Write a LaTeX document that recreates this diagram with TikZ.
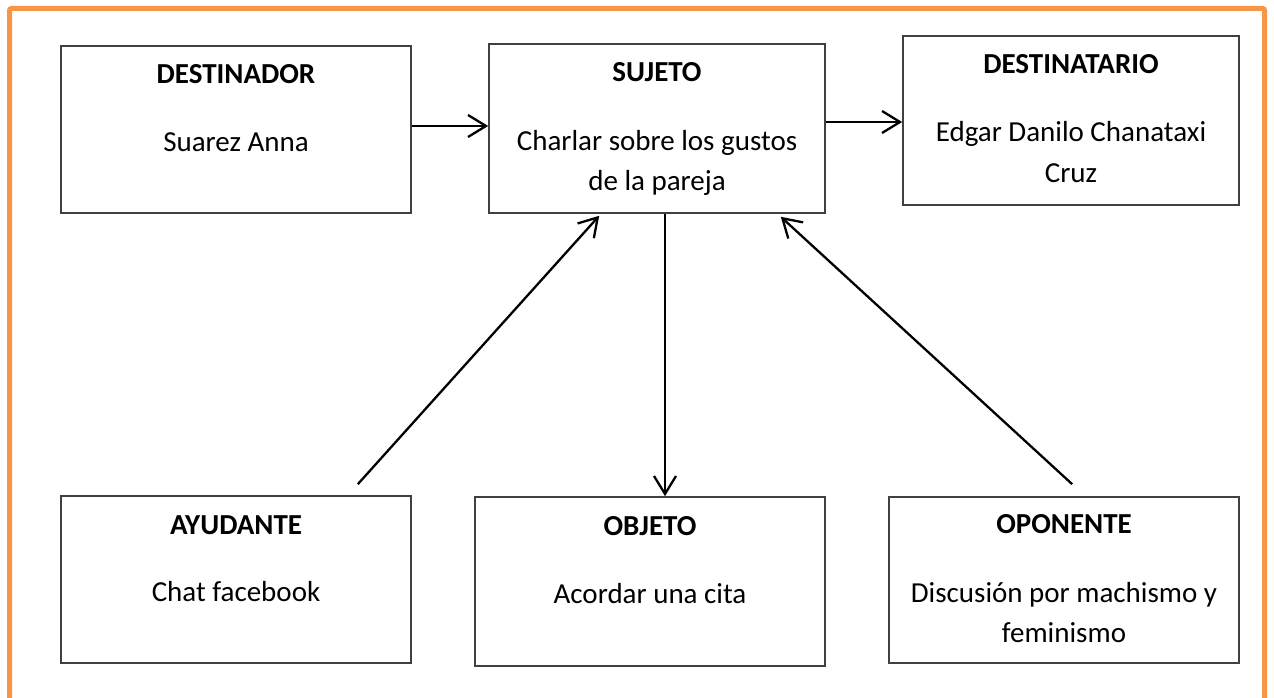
\documentclass[tikz,border=0pt]{standalone}
\usepackage{fontspec}
\setmainfont{Carlito}
\usetikzlibrary{arrows.meta,calc}
\definecolor{frameorange}{HTML}{F79646}
\definecolor{boxline}{HTML}{404040}
\tikzset{
  box/.style={draw=boxline, line width=1.6pt, rectangle, inner sep=0pt},
  ttl/.style={anchor=base, inner sep=0pt, font=\fontsize{29}{40}\selectfont\bfseries},
  txt/.style={anchor=base, inner sep=0pt, font=\fontsize{29}{40}\selectfont},
  arr/.style={line width=2.3pt, -{Straight Barb[length=18pt,width=22pt,line width=2.3pt]}},
}
\begin{document}
\begin{tikzpicture}[x=1pt,y=-1pt]
\useasboundingbox (0,0) rectangle (1274,698);
\fill[white] (0,0) rectangle (1274,698);
\draw[frameorange, line width=5pt, rounded corners=2pt] (9.5,700.5) -- (9.5,8.5) -- (1264.5,8.5) -- (1264.5,700.5);
% boxes
\node[box, minimum width=350pt, minimum height=167pt] (dor) at (236,129.5) {};
\node[box, minimum width=336pt, minimum height=169pt] (suj) at (657,128.5) {};
\node[box, minimum width=336pt, minimum height=169pt] (tario) at (1071,120.5) {};
\node[box, minimum width=350pt, minimum height=167pt] (ayu) at (236,579.5) {};
\node[box, minimum width=350pt, minimum height=169pt] (obj) at (650,581.5) {};
\node[box, minimum width=350pt, minimum height=166pt] (opo) at (1064,580) {};
% texts
\node[ttl] (dort) at (236,84) {DESTINADOR};
\node[txt] (dorb) at (236,152) {Suarez Anna};
\node[ttl] (sujt) at (657,82) {SUJETO};
\node[txt] (sujb1) at (657,150) {Charlar sobre los gustos};
\node[txt] (sujb2) at (657,190.5) {de la pareja};
\node[ttl] (tariot) at (1071,74) {DESTINATARIO};
\node[txt] (tariob1) at (1071,142) {Edgar Danilo Chanataxi};
\node[txt] (tariob2) at (1071,182) {Cruz};
\node[ttl] (ayut) at (236,534) {AYUDANTE};
\node[txt] (ayub) at (236,601) {Chat facebook};
\node[ttl] (objt) at (650,535) {OBJETO};
\node[txt] (objb) at (650,603) {Acordar una cita};
\node[ttl] (opot) at (1064,533) {OPONENTE};
\node[txt] (opob1) at (1064,602) {Discusión por machismo y};
\node[txt] (opob2) at (1064,642) {feminismo};
% connectors
\draw[arr] (dor.east |- 0,126) -- (suj.west |- 0,126);
\draw[arr] (suj.east |- 0,122) -- (tario.west |- 0,122);
\draw[arr] (suj.south -| 665,0) -- (obj.north -| 665,0);
\draw[arr] ($(ayu.north east)+(-54,-11)$) -- ($(suj.south west)+(111,2)$);
\draw[arr] ($(opo.north west)+(184,-12)$) -- ($(suj.south east)+(-45,3)$);
\end{tikzpicture}
\end{document}
